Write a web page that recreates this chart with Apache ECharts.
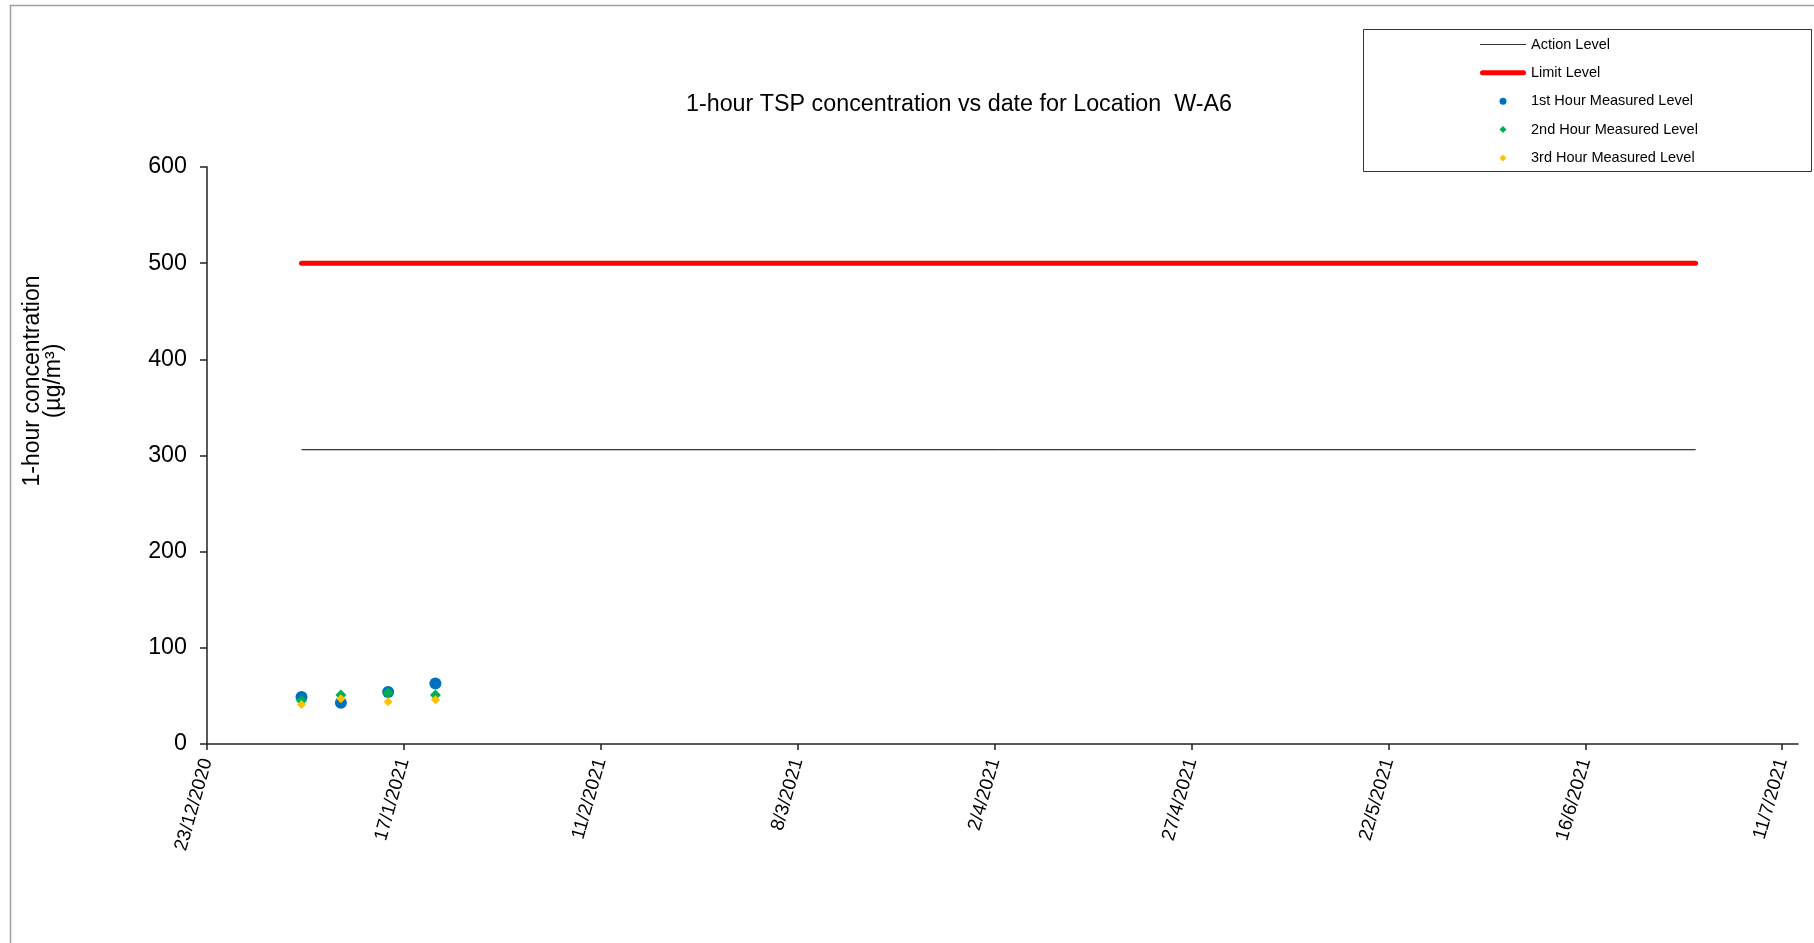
<!DOCTYPE html>
<html>
<head>
<meta charset="utf-8">
<script src="https://cdn.jsdelivr.net/npm/echarts@6/dist/echarts.min.js"></script>
<style>
html,body{margin:0;padding:0;background:#fff;}
#chart{width:1814px;height:943px;}
</style>
</head>
<body>
<div id="chart"></div>
<script>
// ---- data ----
const sampleDates = ['2021-01-04', '2021-01-09', '2021-01-15', '2021-01-21'];
const firstHour  = [49, 43, 54, 63];
const secondHour = [45, 51, 53, 51];
const thirdHour  = [41, 47, 44, 46];
const levelDates = ['2021-01-04', '2021-06-30'];
const actionLevel = [306, 306];
const limitLevel  = [500, 500];
const tickDates = ['2020-12-23', '2021-01-17', '2021-02-11', '2021-03-08', '2021-04-02',
                   '2021-04-27', '2021-05-22', '2021-06-16', '2021-07-11'];
const xMinDate = '2020-12-23';
const xMaxDate = '2021-07-13';
const yTicks = [0, 100, 200, 300, 400, 500, 600];

const ts = d => { const p = d.split('-').map(Number); return Date.UTC(p[0], p[1]-1, p[2]); };
const fmt = v => { const d = new Date(v); return d.getUTCDate() + '/' + (d.getUTCMonth()+1) + '/' + d.getUTCFullYear(); };
const pairs = (xs, ys) => xs.map((x, i) => [ts(x), ys[i]]);

const FONT = '"Liberation Sans", Arial, sans-serif';
const DIAMOND = 'path://M0,-1L1,0L0,1L-1,0Z';
const chart = echarts.init(document.getElementById('chart'), null, {renderer: 'canvas'});
chart.setOption({
  animation: false,
  backgroundColor: '#fff',
  textStyle: {fontFamily: FONT, color: '#000'},
  title: {
    text: '1-hour TSP concentration vs date for Location  W-A6',
    left: 954, top: 88, textAlign: 'center',
    textStyle: {fontFamily: FONT, fontSize: 23.3, fontWeight: 'normal', color: '#000'}
  },
  graphic: [
    {type: 'rect', shape: {x: 10.5, y: 5.5, width: 1840, height: 980}, style: {fill: null, stroke: '#a0a0a0', lineWidth: 1.5}, silent: true, z: -1},
    {type: 'rect', shape: {x: 1363.5, y: 29.5, width: 448, height: 142}, style: {fill: '#fff', stroke: '#333', lineWidth: 1}, silent: true, z: 0}
  ],
  legend: {
    orient: 'vertical', left: 1480, top: 36.5, padding: 0,
    itemWidth: 46, itemHeight: 7, itemGap: 12.35, symbolKeepAspect: true,
    textStyle: {fontFamily: FONT, fontSize: 14.5, color: '#000', lineHeight: 16},
    z: 5,
    data: [
      {name: 'Action Level', icon: 'path://M0,0L46,0L46,1.2L0,1.2Z', itemStyle: {color: '#333', borderWidth: 0}},
      {name: 'Limit Level', icon: 'path://M2.5,0L43.5,0A2.5,2.5,0,0,1,43.5,5L2.5,5A2.5,2.5,0,0,1,2.5,0Z', itemStyle: {color: '#ff0000', borderWidth: 0}},
      {name: '1st Hour Measured Level', icon: 'circle'},
      {name: '2nd Hour Measured Level', icon: DIAMOND},
      {name: '3rd Hour Measured Level', icon: DIAMOND}
    ]
  },
  grid: {left: 207, top: 167, width: 1591, height: 577, containLabel: false},
  xAxis: {
    type: 'value', min: ts(xMinDate), max: ts(xMaxDate),
    splitLine: {show: false},
    axisLine: {show: true, lineStyle: {color: '#222', width: 1.5}},
    axisTick: {show: true, length: 6, lineStyle: {color: '#222', width: 1.5}, customValues: tickDates.map(ts)},
    axisLabel: {
      customValues: tickDates.map(ts), rotate: 74, margin: 15,
      fontFamily: FONT, fontSize: 19, color: '#000', padding: [7, 0, 0, 0],
      formatter: v => fmt(v)
    }
  },
  yAxis: {
    type: 'value', min: 0, max: 600, interval: 100,
    splitLine: {show: false},
    axisLine: {show: true, lineStyle: {color: '#222', width: 1.5}},
    axisTick: {show: true, length: 7, lineStyle: {color: '#222', width: 1.5}, customValues: yTicks},
    axisLabel: {customValues: yTicks, margin: 20, fontFamily: FONT, fontSize: 23.3, color: '#000'},
    name: '1-hour concentration\n(µg/m³)',
    nameLocation: 'middle', nameRotate: 90, nameGap: 143,
    nameTextStyle: {fontFamily: FONT, fontSize: 23, color: '#000', lineHeight: 21, align: 'center', padding: [0, 0, 0, 149]}
  },
  series: [
    {name: 'Action Level', type: 'line', data: pairs(levelDates, actionLevel), symbol: 'none',
     lineStyle: {color: '#000', width: 1}, itemStyle: {color: '#000'}, z: 2},
    {name: 'Limit Level', type: 'line', data: pairs(levelDates, limitLevel), symbol: 'none',
     lineStyle: {color: '#ff0000', width: 5, cap: 'round'}, itemStyle: {color: '#ff0000'}, z: 2},
    {name: '1st Hour Measured Level', type: 'scatter', data: pairs(sampleDates, firstHour),
     symbol: 'circle', symbolSize: 12, itemStyle: {color: '#0070C0', opacity: 1}, z: 3},
    {name: '2nd Hour Measured Level', type: 'scatter', data: pairs(sampleDates, secondHour),
     symbol: 'diamond', symbolSize: 11, itemStyle: {color: '#00B050', opacity: 1}, z: 3},
    {name: '3rd Hour Measured Level', type: 'scatter', data: pairs(sampleDates, thirdHour),
     symbol: 'diamond', symbolSize: 9, itemStyle: {color: '#FFC000', opacity: 1}, z: 3}
  ]
});
</script>
</body>
</html>
